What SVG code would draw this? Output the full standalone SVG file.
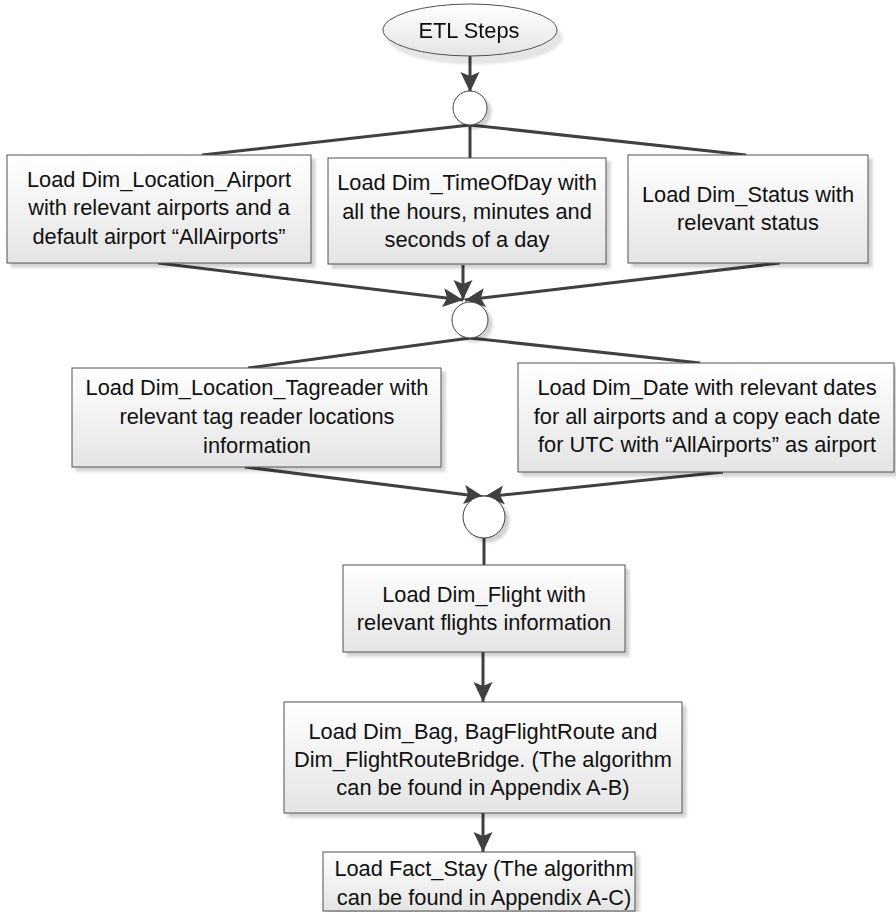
<svg xmlns="http://www.w3.org/2000/svg" width="896" height="912" viewBox="0 0 896 912">
  <defs>
    <linearGradient id="boxFill" x1="0" y1="0" x2="0" y2="1">
      <stop offset="0" stop-color="#ffffff"/>
      <stop offset="1" stop-color="#e4e4e4"/>
    </linearGradient>
    <filter id="shadow" x="-10%" y="-10%" width="130%" height="140%">
      <feDropShadow dx="4" dy="4" stdDeviation="1.5" flood-color="#000000" flood-opacity="0.18"/>
    </filter>
    <filter id="startShadow" x="-10%" y="-20%" width="130%" height="160%">
      <feDropShadow dx="5" dy="8" stdDeviation="1.2" flood-color="#000000" flood-opacity="0.1"/>
    </filter>
    <marker id="arrow" viewBox="0 0 20 20" refX="20" refY="10" markerWidth="20" markerHeight="20" markerUnits="userSpaceOnUse" orient="auto">
      <path d="M20,10 L0,0.5 L4,10 L0,19.5 Z" fill="#404040"/>
    </marker>
    <style>
      .box { fill: url(#boxFill); stroke: #505050; stroke-width: 1; }
      .junction { fill: #ffffff; stroke: #404040; stroke-width: 1; }
      .label { font-family: "Liberation Sans", Arial, sans-serif; font-size: 21.8px; fill: #111111; text-anchor: middle; }
      .link { fill: none; stroke: #404040; stroke-width: 3; }
      .arrowed { marker-end: url(#arrow); }
    </style>
  </defs>

  <!-- connectors -->
  <g id="connectors">
    <line class="link arrowed" x1="470" y1="56" x2="470" y2="92"/>
    <line class="link" x1="470" y1="125" x2="202" y2="155"/>
    <line class="link" x1="470" y1="125" x2="470" y2="158"/>
    <line class="link" x1="470" y1="125" x2="746" y2="155"/>
    <line class="link arrowed" x1="158" y1="263" x2="463" y2="300"/>
    <line class="link arrowed" x1="463" y1="265" x2="463" y2="300"/>
    <line class="link arrowed" x1="780" y1="263" x2="465" y2="300"/>
    <line class="link" x1="470" y1="338" x2="248" y2="368"/>
    <line class="link" x1="470" y1="338" x2="700" y2="363"/>
    <line class="link arrowed" x1="245" y1="467" x2="484" y2="497"/>
    <line class="link arrowed" x1="723" y1="472" x2="484" y2="497"/>
    <line class="link" x1="484" y1="538" x2="484" y2="565"/>
    <line class="link arrowed" x1="483" y1="652" x2="483" y2="702"/>
    <line class="link arrowed" x1="483" y1="813" x2="483" y2="852"/>
  </g>

  <!-- start terminator, shadow covers both the shape and its label -->
  <g id="start" filter="url(#startShadow)">
    <ellipse cx="470" cy="30" rx="87" ry="26" class="box"/>
    <text x="469" y="38" class="label">ETL Steps</text>
  </g>

  <g id="fork1">
    <circle cx="470" cy="108" r="17" class="junction" filter="url(#shadow)"/>
  </g>

  <g id="loadLocationAirport">
    <rect x="7" y="155" width="304" height="108" class="box" filter="url(#shadow)"/>
    <text class="label" x="159" y="187">Load Dim_Location_Airport</text>
    <text class="label" x="159" y="215">with relevant airports and a</text>
    <text class="label" x="159" y="244">default airport “AllAirports”</text>
  </g>

  <g id="loadTimeOfDay">
    <rect x="328" y="158" width="278" height="106" class="box" filter="url(#shadow)"/>
    <text class="label" x="467" y="190">Load Dim_TimeOfDay with</text>
    <text class="label" x="467" y="219">all the hours, minutes and</text>
    <text class="label" x="467" y="247">seconds of a day</text>
  </g>

  <g id="loadStatus">
    <rect x="628" y="155" width="240" height="108" class="box" filter="url(#shadow)"/>
    <text class="label" x="748" y="202">Load Dim_Status with</text>
    <text class="label" x="748" y="230">relevant status</text>
  </g>

  <g id="join1">
    <circle cx="470" cy="320" r="18" class="junction" filter="url(#shadow)"/>
  </g>

  <g id="loadTagreader">
    <rect x="72" y="368" width="369" height="99" class="box" filter="url(#shadow)"/>
    <text class="label" x="257" y="395">Load Dim_Location_Tagreader with</text>
    <text class="label" x="257" y="424">relevant tag reader locations</text>
    <text class="label" x="257" y="453">information</text>
  </g>

  <g id="loadDate">
    <rect x="518" y="363" width="376" height="109" class="box" filter="url(#shadow)"/>
    <text class="label" x="707" y="395">Load Dim_Date with relevant dates</text>
    <text class="label" x="707" y="424">for all airports and a copy each date</text>
    <text class="label" x="707" y="452">for UTC with “AllAirports” as airport</text>
  </g>

  <g id="join2">
    <circle cx="484" cy="517" r="21" class="junction" filter="url(#shadow)"/>
  </g>

  <g id="loadFlight">
    <rect x="343" y="565" width="282" height="87" class="box" filter="url(#shadow)"/>
    <text class="label" x="484" y="602">Load Dim_Flight with</text>
    <text class="label" x="484" y="630">relevant flights information</text>
  </g>

  <g id="loadBag">
    <rect x="284" y="702" width="398" height="111" class="box" filter="url(#shadow)"/>
    <text class="label" x="483" y="739">Load Dim_Bag, BagFlightRoute and</text>
    <text class="label" x="483" y="767">Dim_FlightRouteBridge. (The algorithm</text>
    <text class="label" x="483" y="795">can be found in Appendix A-B)</text>
  </g>

  <g id="loadFactStay">
    <rect x="323" y="852" width="312" height="59" class="box" filter="url(#shadow)"/>
    <text class="label" x="484" y="876">Load Fact_Stay (The algorithm</text>
    <text class="label" x="484" y="905">can be found in Appendix A-C)</text>
  </g>
</svg>
